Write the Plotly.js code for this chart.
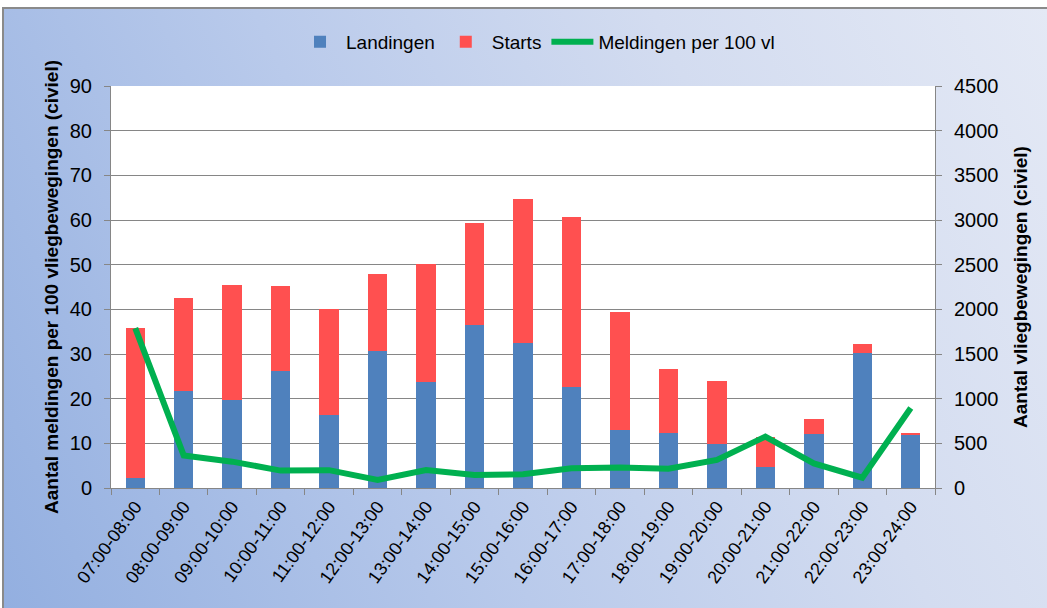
<!DOCTYPE html>
<html>
<head>
<meta charset="utf-8">
<script src="https://cdn.plot.ly/plotly-3.0.1.min.js"></script>
<style>
  html, body { margin: 0; padding: 0; background: #ffffff; width: 1047px; height: 608px; overflow: hidden; }
  #bg { position: absolute; left: 2px; top: 7px; width: 1045px; height: 601px;
        border-top: 2px solid #8a8a8a; border-left: 2px solid #8a8a8a;
        background: linear-gradient(65deg, #93afe0 0%, #b9caeb 40%, #d3dcf0 70%, #e4e9f5 100%); }
  #chart { position: absolute; left: 0; top: 0; width: 1047px; height: 608px; }
</style>
</head>
<body>
<div id="bg"></div>
<div id="chart"></div>
<script>
const categories = ["07:00-08:00","08:00-09:00","09:00-10:00","10:00-11:00","11:00-12:00","12:00-13:00",
  "13:00-14:00","14:00-15:00","15:00-16:00","16:00-17:00","17:00-18:00","18:00-19:00","19:00-20:00",
  "20:00-21:00","21:00-22:00","22:00-23:00","23:00-24:00"];
const landingen = [115, 1088, 980, 1305, 816, 1529, 1182, 1821, 1624, 1133, 651, 614, 497, 236, 602, 1511, 598];
const starts    = [1680, 1044, 1287, 951, 1189, 871, 1320, 1141, 1608, 1897, 1324, 721, 700, 333, 169, 101, 16];
const meldingenPer100 = [35.8, 7.3, 5.9, 3.9, 4.0, 1.8, 4.0, 2.9, 3.1, 4.4, 4.6, 4.3, 6.3, 11.5, 5.5, 2.3, 17.9];

const font = "Liberation Sans, Arial, sans-serif";
const gridCol = "#868686";

const traces = [
  { type: "bar", name: "Landingen", x: categories, y: landingen, yaxis: "y",
    marker: { color: "#4f81bd", line: { width: 0 } } },
  { type: "bar", name: "Starts", x: categories, y: starts, yaxis: "y",
    marker: { color: "#ff5050", line: { width: 0 } } },
  { type: "scatter", mode: "lines", name: "Meldingen per 100 vl", x: categories, y: meldingenPer100,
    yaxis: "y2", line: { color: "#00b050", width: 6 } }
];

const layout = {
  width: 1047, height: 608,
  paper_bgcolor: "rgba(0,0,0,0)",
  plot_bgcolor: "#ffffff",
  margin: { l: 111, r: 112, t: 86, b: 120 },
  barmode: "stack",
  bargap: 0.6,
  font: { family: font, color: "#000000", size: 19 },
  showlegend: true,
  legend: { orientation: "h", x: 0.517, xanchor: "center", y: 1.11, yanchor: "middle", itemwidth: 42,
            font: { family: font, size: 19, color: "#000" }, bgcolor: "rgba(0,0,0,0)", traceorder: "normal" },
  xaxis: {
    type: "category", tickangle: -54, tickfont: { family: font, size: 18, color: "#000" },
    showline: true, linecolor: gridCol, linewidth: 1, ticks: "outside", ticklen: 6, tickcolor: gridCol,
    tickson: "boundaries", showgrid: false, automargin: false
  },
  yaxis: {
    side: "right", range: [0, 4500], dtick: 500, tick0: 0,
    showgrid: true, gridcolor: gridCol, gridwidth: 1,
    showline: true, linecolor: gridCol, linewidth: 1, ticks: "outside", ticklen: 6, tickcolor: gridCol,
    tickfont: { family: font, size: 20, color: "#000" }, ticklabelstandoff: 8,
    zeroline: false, automargin: false,
    title: { text: "<b>Aantal vliegbewegingen (civiel)</b>", font: { family: font, size: 19, color: "#000" }, standoff: 16 }
  },
  yaxis2: {
    overlaying: "y", side: "left", range: [0, 90], dtick: 10, tick0: 0,
    showgrid: false, zeroline: false,
    showline: true, linecolor: gridCol, linewidth: 1, ticks: "outside", ticklen: 6, tickcolor: gridCol,
    tickfont: { family: font, size: 20, color: "#000" }, ticklabelstandoff: 8, automargin: false,
    title: { text: "<b>Aantal meldingen per 100 vliegbewegingen (civiel)</b>", font: { family: font, size: 19, color: "#000" }, standoff: 6 }
  }
};

Plotly.newPlot("chart", traces, layout, { displayModeBar: false, staticPlot: true });
</script>
</body>
</html>
